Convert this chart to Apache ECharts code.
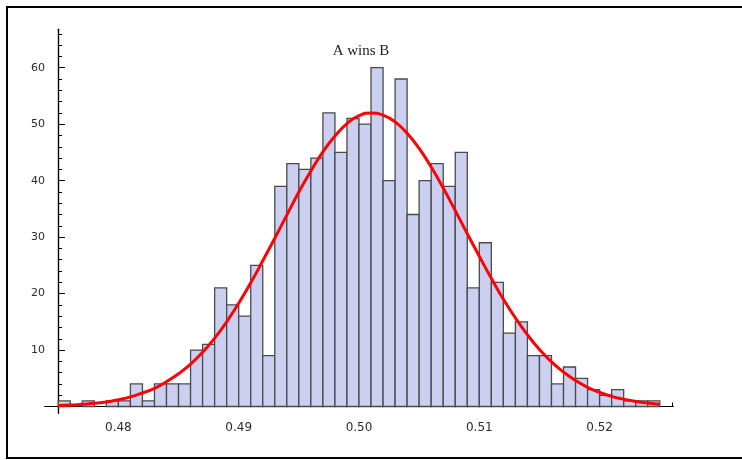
<!DOCTYPE html>
<html>
<head>
<meta charset="utf-8">
<script src="https://cdn.jsdelivr.net/npm/echarts@6/dist/echarts.min.js"></script>
<style>
html,body{margin:0;padding:0;background:#fff;}
#chart{width:742px;height:460px;}
</style>
</head>
<body>
<div id="chart"></div>
<script>
// Histogram bins (left edges) and counts
const binStarts = [0.475,0.476,0.477,0.478,0.479,0.480,0.481,0.482,0.483,0.484,
                   0.485,0.486,0.487,0.488,0.489,0.490,0.491,0.492,0.493,0.494,
                   0.495,0.496,0.497,0.498,0.499,0.500,0.501,0.502,0.503,0.504,
                   0.505,0.506,0.507,0.508,0.509,0.510,0.511,0.512,0.513,0.514,
                   0.515,0.516,0.517,0.518,0.519,0.520,0.521,0.522,0.523,0.524];
const binWidth = 0.001;
const counts = [1,0,1,0,1,1,4,1,4,4,
                4,10,11,21,18,16,25,9,39,43,
                42,44,52,45,51,50,60,40,58,34,
                40,43,39,45,21,29,22,13,15,9,
                9,4,7,5,3,2,3,1,1,1];
// Fitted curve
const curveX = [0.475,0.476,0.477,0.478,0.479,0.480,0.481,0.482,0.483,0.484,
                0.485,0.486,0.487,0.488,0.489,0.490,0.491,0.492,0.493,0.494,
                0.495,0.496,0.497,0.498,0.499,0.500,0.501,0.502,0.503,0.504,
                0.505,0.506,0.507,0.508,0.509,0.510,0.511,0.512,0.513,0.514,
                0.515,0.516,0.517,0.518,0.519,0.520,0.521,0.522,0.523,0.524,0.525];
const curveY = [0.2,0.25,0.4,0.56,0.8,1.2,1.7,2.4,3.2,4.4,
                5.8,7.5,9.6,12.1,15.0,18.3,21.9,25.8,29.8,33.9,
                38.0,41.7,45.1,47.9,50.1,51.5,52.0,51.6,50.4,48.4,
                45.7,42.4,38.7,34.7,30.6,26.6,22.7,19.0,15.7,12.7,
                10.1,7.9,6.1,4.6,3.4,2.5,1.8,1.3,0.9,0.61,0.4];
// Tick labels
const xMajorTicks = [0.48,0.49,0.50,0.51,0.52];
const xMinorTicks = [0.476,0.478,0.482,0.484,0.486,0.488,0.492,0.494,0.496,0.498,
                     0.502,0.504,0.506,0.508,0.512,0.514,0.516,0.518,0.522,0.524,0.526];
const yMajorTicks = [10,20,30,40,50,60];
const yMinorTicks = [2,4,6,8,12,14,16,18,22,24,26,28,32,34,36,38,42,44,46,48,52,54,56,58,62,64,66];
const titleText = 'A wins B';

const chart = echarts.init(document.getElementById('chart'), null, {renderer:'canvas'});
const axisColor = '#000';
const labelColor = '#2a2a3a';
const histData = binStarts.map((s,i)=>[s, s+binWidth, counts[i]]);
const curveData = curveX.map((x,i)=>[x, curveY[i]]);

const xBase = {type:'value', min:0.4739, max:0.5261, position:'bottom', splitLine:{show:false}};
const yBase = {type:'value', min:-1.2, max:66.8, position:'left', offset:-13, splitLine:{show:false}};

chart.setOption({
  animation:false,
  backgroundColor:'#fff',
  title:{text:titleText, left:356, top:39, textAlign:'center',
         textStyle:{fontFamily:'Liberation Serif', fontSize:15, fontWeight:'normal', color:'#222'}},
  grid:{left:45, right:69, top:29.3, bottom:46.7, containLabel:false},
  xAxis:[
    Object.assign({}, xBase, {
      axisLine:{show:true, onZero:true, lineStyle:{color:axisColor, width:1.2}},
      axisTick:{show:true, inside:true, length:7, customValues:xMajorTicks, lineStyle:{color:axisColor, width:1}},
      axisLabel:{show:true, customValues:xMajorTicks, formatter:v=>Number(v).toFixed(2),
                 fontFamily:'DejaVu Sans', fontSize:12, color:labelColor, margin:9}
    }),
    Object.assign({}, xBase, {
      axisLine:{show:true, onZero:true, lineStyle:{color:axisColor, width:1.2}},
      axisTick:{show:true, inside:true, length:4, customValues:xMinorTicks, lineStyle:{color:axisColor, width:1}},
      axisLabel:{show:false}
    })
  ],
  yAxis:[
    Object.assign({}, yBase, {
      axisLine:{show:true, onZero:false, lineStyle:{color:axisColor, width:1.2}},
      axisTick:{show:true, inside:true, length:7, customValues:yMajorTicks, lineStyle:{color:axisColor, width:1}},
      axisLabel:{show:true, customValues:yMajorTicks, fontFamily:'DejaVu Sans', fontSize:11, color:labelColor, margin:13}
    }),
    Object.assign({}, yBase, {
      axisLine:{show:true, onZero:false, lineStyle:{color:axisColor, width:1.2}},
      axisTick:{show:true, inside:true, length:4, customValues:yMinorTicks, lineStyle:{color:axisColor, width:1}},
      axisLabel:{show:false}
    })
  ],
  graphic:[{type:'rect', shape:{x:7, y:7, width:745, height:451}, style:{fill:null, stroke:'#000', lineWidth:2}, silent:true, z:100}],
  series:[
    {
      type:'custom', xAxisIndex:0, yAxisIndex:0, z:3,
      data:histData,
      encode:{x:[0,1], y:2},
      renderItem:function(params, api){
        const c = api.value(2);
        if (!(c > 0)) return null;
        const p0 = api.coord([api.value(0), c]);
        const p1 = api.coord([api.value(1), 0]);
        return {type:'rect', shape:{x:p0[0], y:p0[1], width:p1[0]-p0[0], height:p1[1]-p0[1]},
                style:{fill:'#cbd0f0', stroke:'#4a4a4a', lineWidth:1.3}};
      }
    },
    {
      type:'line', xAxisIndex:0, yAxisIndex:0, z:5,
      data:curveData, smooth:0.5, symbol:'none',
      lineStyle:{color:'#ff0000', width:3}
    }
  ]
});
</script>
</body>
</html>
